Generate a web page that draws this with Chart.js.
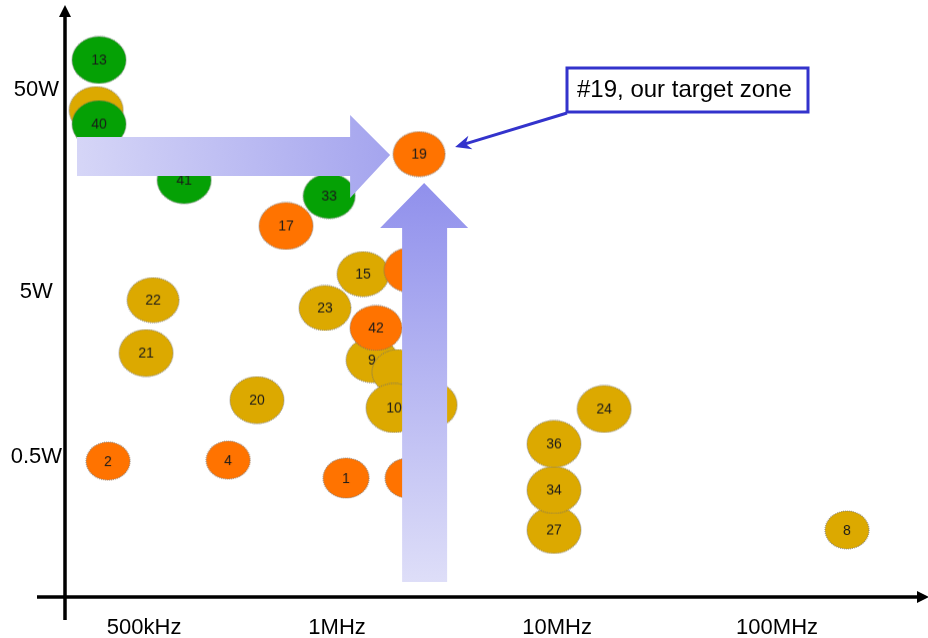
<!DOCTYPE html>
<html>
<head>
<meta charset="utf-8">
<script src="https://cdn.jsdelivr.net/npm/chart.js@4/dist/chart.umd.min.js"></script>
<style>
  html, body { margin: 0; padding: 0; background: #fff; }
  #wrap { width: 928px; height: 638px; position: relative; }
</style>
</head>
<body>
<div id="wrap"><canvas id="chart"></canvas></div>
<script>
// bubble data: x = log10(frequency Hz), y = log10(power W), as placed on the slide
const bubbleLabels = ["13", "12", "40", "41", "19", "33", "17", "15", "", "22", "27", "34", "9", "", "23", "42", "21", "20", "10", "", "24", "36", "2", "4", "1", "", "8"];
const bubbleX = [4.918, 4.905, 4.918, 5.305, 6.373, 5.964, 5.768, 6.118, 6.332, 5.164, 6.986, 6.986, 6.159, 6.277, 5.945, 6.177, 5.132, 5.636, 6.259, 6.423, 7.214, 6.986, 4.959, 5.505, 6.041, 6.323, 8.318];
const bubbleY = [1.848, 1.600, 1.531, 1.253, 1.382, 1.174, 1.026, 0.788, 0.808, 0.659, -0.479, -0.281, 0.362, 0.303, 0.620, 0.521, 0.397, 0.164, 0.125, 0.140, 0.120, -0.053, -0.138, -0.133, -0.222, -0.222, -0.479];
const bubbleR = [27, 27, 27, 27, 26, 26, 27, 26, 26, 26, 27, 27, 26, 26, 26, 26, 27, 27, 28, 27, 27, 27, 22, 22, 23, 23, 22];
const bubbleGroup = ["green", "gold", "green", "green", "orange", "green", "orange", "gold", "orange", "gold", "gold", "gold", "gold", "gold", "gold", "orange", "gold", "gold", "gold", "gold", "gold", "gold", "orange", "orange", "orange", "orange", "gold"];

const xTickValues = [5.123, 6, 7, 8];
const xTickLabels = ["500kHz", "1MHz", "10MHz", "100MHz"];
const yTickValues = [1.699, 0.699, -0.118];
const yTickLabels = ["50W", "5W", "0.5W"];

const targetLabel = "19";
const calloutText = "#19, our target zone";

const groupColors = { orange: "#ff7300", gold: "#dca900", green: "#05a105" };
const FONT = "'Liberation Sans', Arial, sans-serif";

// 楕円のバブル画像を作る
function makeBubble(label, r, color) {
  const w = Math.round(r * 2), h = Math.round(r * 1.74);
  const c = document.createElement("canvas");
  c.width = w + 2;
  c.height = h + 2;
  const g = c.getContext("2d");
  g.beginPath();
  g.ellipse(c.width / 2, c.height / 2, w / 2, h / 2, 0, 0, Math.PI * 2);
  g.fillStyle = color;
  g.fill();
  g.setLineDash([1, 1]);
  g.lineWidth = 1.2;
  g.strokeStyle = "rgba(110,110,110,0.7)";
  g.stroke();
  if (label) {
    g.fillStyle = "#1a1a1a";
    g.font = "14px " + FONT;
    g.textAlign = "center";
    g.textBaseline = "middle";
    g.fillText(label, c.width / 2, c.height / 2 + 1);
  }
  return c;
}

const bubbleImages = bubbleLabels.map((l, i) => makeBubble(l, bubbleR[i], groupColors[bubbleGroup[i]]));

// 軸ラベル分の余白を消す
function noPadding(s) {
  s.paddingTop = 0;
  s.paddingBottom = 0;
  s.paddingLeft = 0;
  s.paddingRight = 0;
}

// 矢印・吹き出し・軸を描くプラグイン
const overlayPlugin = {
  id: "overlay",
  afterDatasetsDraw(chart) {
    const ctx = chart.ctx;
    const xs = chart.scales.x, ys = chart.scales.y;
    const ti = bubbleLabels.indexOf(targetLabel);
    const cx = xs.getPixelForValue(bubbleX[ti]);
    const cy = ys.getPixelForValue(bubbleY[ti]);

    ctx.save();
    // horizontal arrow
    let tipX = cx - 29, tipY = cy + 1;
    let grad = ctx.createLinearGradient(77, tipY + 20, tipX, tipY - 20);
    grad.addColorStop(0, "#d6d6f7");
    grad.addColorStop(1, "#a4a4ee");
    ctx.fillStyle = grad;
    ctx.beginPath();
    ctx.moveTo(77, tipY - 18);
    ctx.lineTo(tipX - 40, tipY - 18);
    ctx.lineTo(tipX - 40, tipY - 40);
    ctx.lineTo(tipX, tipY);
    ctx.lineTo(tipX - 40, tipY + 43);
    ctx.lineTo(tipX - 40, tipY + 21);
    ctx.lineTo(77, tipY + 21);
    ctx.closePath();
    ctx.fill();

    // vertical arrow
    tipX = cx + 5; tipY = cy + 29;
    grad = ctx.createLinearGradient(0, tipY, 0, 582);
    grad.addColorStop(0, "#9090ec");
    grad.addColorStop(1, "#dedef8");
    ctx.fillStyle = grad;
    ctx.beginPath();
    ctx.moveTo(tipX, tipY);
    ctx.lineTo(tipX + 44, tipY + 45);
    ctx.lineTo(tipX + 23, tipY + 45);
    ctx.lineTo(tipX + 23, 582);
    ctx.lineTo(tipX - 22, 582);
    ctx.lineTo(tipX - 22, tipY + 45);
    ctx.lineTo(tipX - 44, tipY + 45);
    ctx.closePath();
    ctx.fill();

    // callout box
    ctx.strokeStyle = "#3333cc";
    ctx.lineWidth = 3;
    ctx.fillStyle = "#fff";
    ctx.fillRect(567, 68, 241, 44);
    ctx.strokeRect(567, 68, 241, 44);
    ctx.fillStyle = "#000";
    ctx.font = "24px " + FONT;
    ctx.textAlign = "left";
    ctx.textBaseline = "middle";
    ctx.fillText(calloutText, 577, 90);

    // callout pointer
    const px = cx + 36, py = cy - 7;
    ctx.beginPath();
    ctx.moveTo(567, 113);
    ctx.lineTo(px + 6, py - 2);
    ctx.stroke();
    const ang = Math.atan2(113 - py, 567 - px);
    ctx.save();
    ctx.translate(px, py);
    ctx.rotate(ang);
    ctx.fillStyle = "#3333cc";
    ctx.beginPath();
    ctx.moveTo(0, 0);
    ctx.lineTo(16, -7);
    ctx.lineTo(11, 0);
    ctx.lineTo(16, 7);
    ctx.closePath();
    ctx.fill();
    ctx.restore();

    // axes with arrowheads
    ctx.strokeStyle = "#000";
    ctx.fillStyle = "#000";
    ctx.lineWidth = 3.5;
    const ax = xs.left - 1, ay = ys.bottom;
    ctx.beginPath();
    ctx.moveTo(ax, 620);
    ctx.lineTo(ax, 14);
    ctx.moveTo(37, ay);
    ctx.lineTo(920, ay);
    ctx.stroke();
    ctx.beginPath();
    ctx.moveTo(ax, 5);
    ctx.lineTo(ax + 6, 17);
    ctx.lineTo(ax - 6, 17);
    ctx.closePath();
    ctx.fill();
    ctx.beginPath();
    ctx.moveTo(929, ay);
    ctx.lineTo(917, ay - 6);
    ctx.lineTo(917, ay + 6);
    ctx.closePath();
    ctx.fill();
    ctx.restore();
  },
};

const chart = new Chart(document.getElementById("chart"), {
  type: "bubble",
  data: {
    datasets: [
      {
        data: bubbleX.map((x, i) => ({ x: x, y: bubbleY[i], r: bubbleR[i] })),
        pointStyle: (c) => bubbleImages[c.dataIndex],
        backgroundColor: bubbleGroup.map((g) => groupColors[g]),
        borderWidth: 0,
        clip: false,
      },
    ],
  },
  options: {
    responsive: true,
    maintainAspectRatio: false,
    animation: false,
    devicePixelRatio: 1,
    layout: { padding: 0, autoPadding: false },
    plugins: { legend: { display: false }, tooltip: { enabled: false } },
    scales: {
      x: {
        type: "linear",
        min: 4.768,
        max: 8.686,
        grid: { display: false, drawTicks: false },
        border: { display: false },
        afterBuildTicks: (s) => { s.ticks = xTickValues.map((v) => ({ value: v })); },
        afterFit: (s) => { s.height = 41; noPadding(s); },
        ticks: {
          autoSkip: false,
          maxRotation: 0,
          padding: 18,
          color: "#000",
          font: { family: FONT, size: 22 },
          callback: (v, i) => xTickLabels[i],
        },
      },
      y: {
        type: "linear",
        min: -0.811,
        max: 2.145,
        grid: { display: false, drawTicks: false },
        border: { display: false },
        afterBuildTicks: (s) => { s.ticks = yTickValues.map((v) => ({ value: v })); },
        afterFit: (s) => { s.width = 66; noPadding(s); },
        ticks: {
          autoSkip: false,
          padding: 4,
          crossAlign: "center",
          color: "#000",
          font: { family: FONT, size: 22 },
          callback: (v, i) => yTickLabels[i],
        },
      },
    },
  },
  plugins: [overlayPlugin],
});
</script>
</body>
</html>
